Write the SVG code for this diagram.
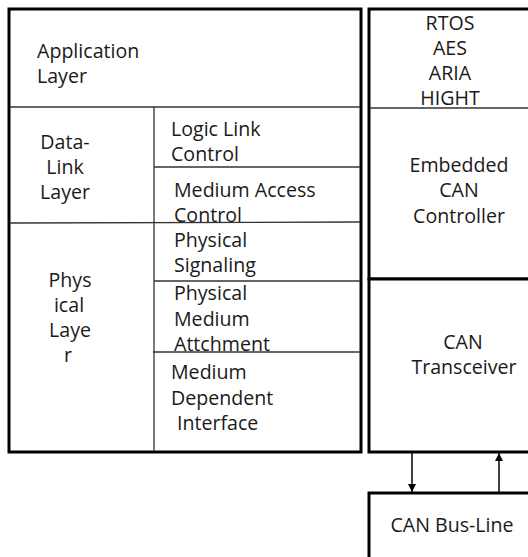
<svg xmlns="http://www.w3.org/2000/svg" width="528" height="557" viewBox="0 0 528 557">
<style>
.thick{fill:#fff;stroke:#000;stroke-width:3}
.thin{stroke:#333;stroke-width:1.3;fill:none}
.t{font-family:"Open Sans","Noto Sans","Liberation Sans",sans-serif;font-size:19.6px;fill:#1a1a1a}
.m{text-anchor:middle}
.conn{stroke:#000;stroke-width:1.5;fill:none}
</style>
<defs>
<marker id="ah2" viewBox="0 0 10 10" refX="10" refY="5" markerWidth="8" markerHeight="8" orient="auto" markerUnits="userSpaceOnUse">
<path d="M0,0 L10,5 L0,10 z" fill="#000"/>
</marker>
</defs>
<g id="osi-stack">
<rect class="thick" x="9" y="9" width="352" height="443"/>
<line class="thin" x1="10" y1="107" x2="360" y2="107"/>
<line class="thin" x1="154" y1="107" x2="154" y2="451"/>
<line class="thin" x1="154" y1="167" x2="360" y2="167"/>
<line class="thin" x1="10" y1="223" x2="360" y2="222"/>
<line class="thin" x1="154" y1="281" x2="360" y2="281"/>
<line class="thin" x1="153" y1="352" x2="360" y2="352"/>
</g>
<g id="application-layer">
<text class="t" x="37" y="58">Application</text>
<text class="t" x="37" y="83">Layer</text>
</g>
<g id="data-link-layer">
<text class="t m" x="65" y="149">Data-</text>
<text class="t m" x="65" y="174">Link</text>
<text class="t m" x="65" y="199">Layer</text>
</g>
<g id="physical-layer">
<text class="t m" x="70" y="287">Phys</text>
<text class="t m" x="69" y="312">ical</text>
<text class="t m" x="70" y="337">Laye</text>
<text class="t m" x="68" y="362">r</text>
</g>
<g id="llc">
<text class="t" x="171" y="136">Logic Link</text>
<text class="t" x="171" y="161">Control</text>
</g>
<g id="mac">
<text class="t" x="174" y="197">Medium Access</text>
<text class="t" x="174" y="222">Control</text>
</g>
<g id="pls">
<text class="t" x="174" y="247">Physical</text>
<text class="t" x="174" y="272">Signaling</text>
</g>
<g id="pma">
<text class="t" x="174" y="300">Physical</text>
<text class="t" x="174" y="326">Medium</text>
<text class="t" x="174" y="351">Attchment</text>
</g>
<g id="mdi">
<text class="t" x="171" y="379">Medium</text>
<text class="t" x="171" y="405">Dependent</text>
<text class="t" x="177" y="430">Interface</text>
</g>
<g id="controller">
<rect class="thick" x="369" y="9" width="200" height="270"/>
<line class="thin" x1="370" y1="108" x2="528" y2="108"/>
<text class="t m" x="450" y="30">RTOS</text>
<text class="t m" x="450" y="55">AES</text>
<text class="t m" x="450" y="80">ARIA</text>
<text class="t m" x="450" y="105">HIGHT</text>
<text class="t m" x="459" y="172">Embedded</text>
<text class="t m" x="459" y="197">CAN</text>
<text class="t m" x="459" y="223">Controller</text>
</g>
<g id="transceiver">
<rect class="thick" x="369" y="279" width="200" height="173"/>
<text class="t m" x="463" y="349">CAN</text>
<text class="t m" x="464" y="374">Transceiver</text>
</g>
<g id="bus-line">
<rect class="thick" x="369" y="493" width="200" height="100"/>
<text class="t m" x="452" y="532">CAN Bus-Line</text>
</g>
<g id="connectors">
<line class="conn" x1="412" y1="453" x2="412" y2="492" marker-end="url(#ah2)"/>
<line class="conn" x1="499" y1="492" x2="499" y2="453" marker-end="url(#ah2)"/>
</g>
</svg>
